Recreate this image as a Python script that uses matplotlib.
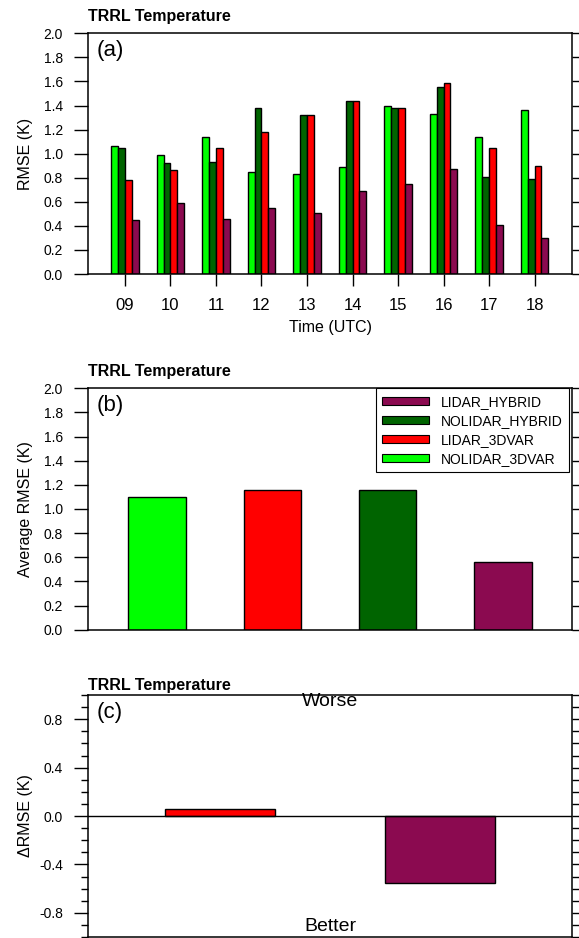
import matplotlib
matplotlib.use("Agg")
import matplotlib.pyplot as plt
from matplotlib.patches import Patch
from matplotlib.ticker import MultipleLocator, FixedLocator
import numpy as np

plt.rcParams['font.family'] = ['Liberation Sans', 'DejaVu Sans']
plt.rcParams['axes.unicode_minus'] = False

# ---------------- data ----------------
hours = ["09", "10", "11", "12", "13", "14", "15", "16", "17", "18"]
hour_pos = [9, 10, 11, 12, 13, 14, 15, 16, 17, 18]
nolidar_3dvar = [1.06, 0.99, 1.14, 0.85, 0.83, 0.89, 1.40, 1.33, 1.14, 1.36]
nolidar_hybrid = [1.05, 0.92, 0.93, 1.38, 1.32, 1.44, 1.38, 1.55, 0.81, 0.79]
lidar_3dvar = [0.78, 0.86, 1.05, 1.18, 1.32, 1.44, 1.38, 1.59, 1.05, 0.90]
lidar_hybrid = [0.45, 0.59, 0.46, 0.55, 0.51, 0.69, 0.75, 0.87, 0.41, 0.30]

avg_names = ["NOLIDAR_3DVAR", "LIDAR_3DVAR", "NOLIDAR_HYBRID", "LIDAR_HYBRID"]
avg_values = [1.10, 1.16, 1.16, 0.56]

delta_names = ["LIDAR_3DVAR", "LIDAR_HYBRID"]
delta_values = [0.06, -0.55]

legend_names = ["LIDAR_HYBRID", "NOLIDAR_HYBRID", "LIDAR_3DVAR", "NOLIDAR_3DVAR"]

colors = {
    "NOLIDAR_3DVAR": "#00FF00",
    "NOLIDAR_HYBRID": "#006400",
    "LIDAR_3DVAR": "#FF0000",
    "LIDAR_HYBRID": "#8B0A50",
}

W, H = 579, 938
fig = plt.figure(figsize=(W / 100, H / 100), dpi=100)

def axrect(left, top, right, bottom):
    return [left / W, 1 - bottom / H, (right - left) / W, (bottom - top) / H]

ax_a = fig.add_axes(axrect(88, 33.3, 572, 274))
ax_b = fig.add_axes(axrect(88, 388.3, 572, 629.7))
ax_c = fig.add_axes(axrect(88, 695, 572, 937))

LW = 1.0
for ax in (ax_a, ax_b, ax_c):
    for s in ax.spines.values():
        s.set_linewidth(1.1)
    ax.tick_params(axis='y', which='major', direction='out', length=10, width=1.0,
                   labelsize=10, pad=8, left=True, right=True, labelright=False)
    ax.tick_params(axis='y', which='minor', direction='out', length=5, width=1.0,
                   left=True, right=True)

# ---------------- panel (a) ----------------
series_a = [("NOLIDAR_3DVAR", nolidar_3dvar), ("NOLIDAR_HYBRID", nolidar_hybrid),
            ("LIDAR_3DVAR", lidar_3dvar), ("LIDAR_HYBRID", lidar_hybrid)]
bw = 0.15
x = np.array(hour_pos, dtype=float)
for i, (name, vals) in enumerate(series_a):
    ax_a.bar(x + (i - 1.5) * bw, vals, width=bw, color=colors[name],
             edgecolor='black', linewidth=LW)
ax_a.set_xlim(8.19, 18.82)
ax_a.set_ylim(0, 2.0)
ax_a.yaxis.set_major_locator(MultipleLocator(0.2))
ax_a.yaxis.set_major_formatter(matplotlib.ticker.FormatStrFormatter('%.1f'))
ax_a.set_xticks(hour_pos)
ax_a.set_xticklabels(hours)
ax_a.tick_params(axis='x', direction='out', length=8.6, width=1.0, labelsize=12, pad=9)
ax_a.set_ylabel("RMSE (K)", fontsize=11.5)
ax_a.yaxis.set_label_coords(-0.114, 0.5)
ax_a.set_xlabel("Time (UTC)", fontsize=11.5)
ax_a.xaxis.set_label_coords(0.5, -0.19)
ax_a.xaxis.label.set_va('top')

# ---------------- panel (b) ----------------
pos_b = [1, 2, 3, 4]
ax_b.bar(pos_b, avg_values, width=0.5, color=[colors[n] for n in avg_names],
         edgecolor='black', linewidth=LW)
ax_b.set_xlim(0.4, 4.6)
ax_b.set_ylim(0, 2.0)
ax_b.yaxis.set_major_locator(MultipleLocator(0.2))
ax_b.yaxis.set_major_formatter(matplotlib.ticker.FormatStrFormatter('%.1f'))
ax_b.set_xticks([])
ax_b.set_ylabel("Average RMSE (K)", fontsize=11.5)
ax_b.yaxis.set_label_coords(-0.114, 0.5)
handles = [Patch(facecolor=colors[n], edgecolor='black', linewidth=0.8) for n in legend_names]
leg = ax_b.legend(handles, legend_names, loc='upper right', bbox_to_anchor=(0.994, 1.0),
                  borderaxespad=0, fancybox=False, edgecolor='black', framealpha=1,
                  fontsize=10, handlelength=3.4, handleheight=0.5, handletextpad=0.85,
                  labelspacing=0.36, borderpad=0.45)
leg.get_frame().set_linewidth(0.8)

# ---------------- panel (c) ----------------
pos_c = [1, 2]
ax_c.bar(pos_c, delta_values, width=0.5, color=[colors[n] for n in delta_names],
         edgecolor='black', linewidth=LW)
ax_c.axhline(0, color='black', linewidth=1.0)
ax_c.set_xlim(0.4, 2.6)
ax_c.set_ylim(-1.0, 1.0)
ax_c.yaxis.set_major_locator(FixedLocator([-0.8, -0.4, 0.0, 0.4, 0.8]))
ax_c.yaxis.set_minor_locator(MultipleLocator(0.1))
ax_c.yaxis.set_major_formatter(matplotlib.ticker.FormatStrFormatter('%.1f'))
ax_c.set_xticks([])
ax_c.set_ylabel("\u0394RMSE (K)", fontsize=11.5)
ax_c.yaxis.set_label_coords(-0.114, 0.5)
ax_c.text(0.5, 0.95, "Worse", transform=ax_c.get_yaxis_transform(), ha='center',
          va='center', fontsize=14)
ax_c.text(0.5, -0.91, "Better", transform=ax_c.get_yaxis_transform(), ha='center',
          va='center', fontsize=14)

# ---------------- titles and panel letters ----------------
for ax, letter, off in ((ax_a, "(a)", 12), (ax_b, "(b)", 12.5), (ax_c, "(c)", 5.5)):
    ax.annotate("TRRL Temperature", xy=(0, 1), xycoords='axes fraction',
                xytext=(0, off), textcoords='offset pixels', ha='left', va='baseline',
                fontsize=11.5, fontweight='bold')
    ax.annotate(letter, xy=(0, 1), xycoords='axes fraction', xytext=(9, -7),
                textcoords='offset pixels', ha='left', va='top', fontsize=16)

fig.savefig("out.png", dpi=100)
